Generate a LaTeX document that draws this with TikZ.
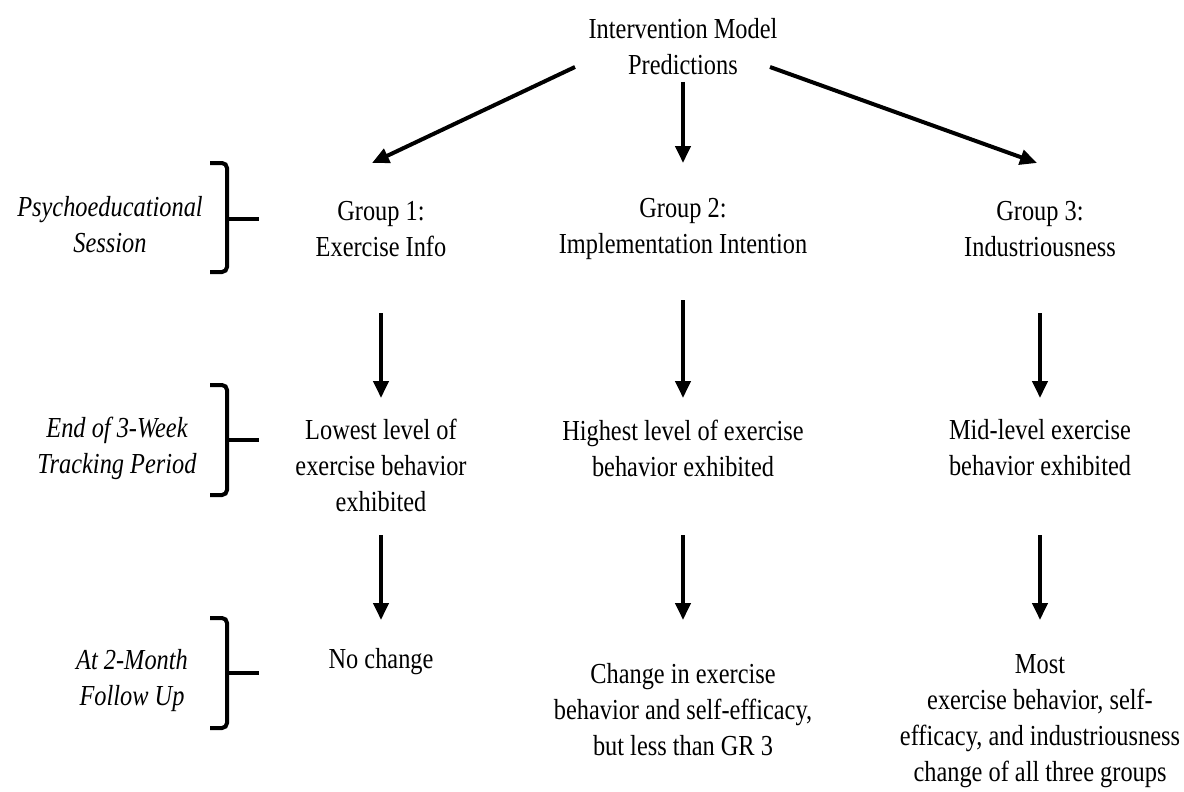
\documentclass[tikz,border=0pt]{standalone}
\usepackage{fontspec}
\setmainfont{Liberation Serif}[FakeStretch=0.84]
\usetikzlibrary{arrows.meta}
\begin{document}
\begin{tikzpicture}[x=1pt,y=-1pt,
  txt/.style={align=center,inner sep=0pt,font=\fontsize{29}{36}\selectfont},
  lab/.style={txt,font=\fontsize{29}{36}\selectfont\itshape},
  arr/.style={line width=4pt,-{Triangle[length=17pt,width=15pt]}},
  brk/.style={line width=4pt,rounded corners=5pt}]
\useasboundingbox (0,0) rectangle (1184,792);
% top
\node[txt] (top) at (683,47) {Intervention Model\\Predictions};
% groups
\node[txt] (g1) at (381,229) {Group 1:\\Exercise Info};
\node[txt] (g2) at (683,229) {Group 2:\\Implementation Intention};
\node[txt] (g3) at (1040,229) {Group 3:\\Industriousness};
% row 2
\node[txt] (r1) at (381,465) {Lowest level of\\exercise behavior\\exhibited};
\node[txt] (r2) at (683,448) {Highest level of exercise\\behavior exhibited};
\node[txt] (r3) at (1040,448) {Mid-level exercise\\behavior exhibited};
% row 3
\node[txt] (f1) at (381,662) {No change};
\node[txt] (f2) at (683,710) {Change in exercise\\behavior and self-efficacy,\\but less than GR 3};
\node[txt] (f3) at (1040,721) {Most\\exercise behavior, self-\\efficacy, and industriousness\\change of all three groups};
% left labels
\node[lab] (l1) at (110,225) {Psychoeducational\\Session};
\node[lab] (l2) at (117,448) {End of 3-Week\\Tracking Period};
\node[lab] (l3) at (132,681) {At 2-Month\\Follow Up};
% arrow end points
\coordinate (ts1) at (575,67);  \coordinate (te1) at (372,163);
\coordinate (ts2) at (683,82);  \coordinate (te2) at (683,163);
\coordinate (ts3) at (770,67);  \coordinate (te3) at (1037,163);
\coordinate (as1) at (381,313); \coordinate (ae1) at (381,398);
\coordinate (as2) at (683,300); \coordinate (ae2) at (683,398);
\coordinate (as3) at (1040,313); \coordinate (ae3) at (1040,398);
\coordinate (bs1) at (381,535); \coordinate (be1) at (381,620);
\coordinate (bs2) at (683,535); \coordinate (be2) at (683,620);
\coordinate (bs3) at (1040,535); \coordinate (be3) at (1040,620);
\foreach \i in {1,2,3}{
  \draw[arr] (ts\i) -- (te\i);
  \draw[arr] (as\i) -- (ae\i);
  \draw[arr] (bs\i) -- (be\i);
}
% brackets
\foreach \n/\t/\m/\b in {k1/163/219/272,k2/385/440/495,k3/618/673/728}{
  \coordinate (\n t) at (210,\t);
  \coordinate (\n m) at (227,\m);
  \coordinate (\n b) at (210,\b);
  \coordinate (\n e) at (259,\m);
  \draw[brk] (\n t) -| (\n m) |- (\n b);
  \draw[line width=4pt] (\n m) -- (\n e);
}
\end{tikzpicture}
\end{document}
